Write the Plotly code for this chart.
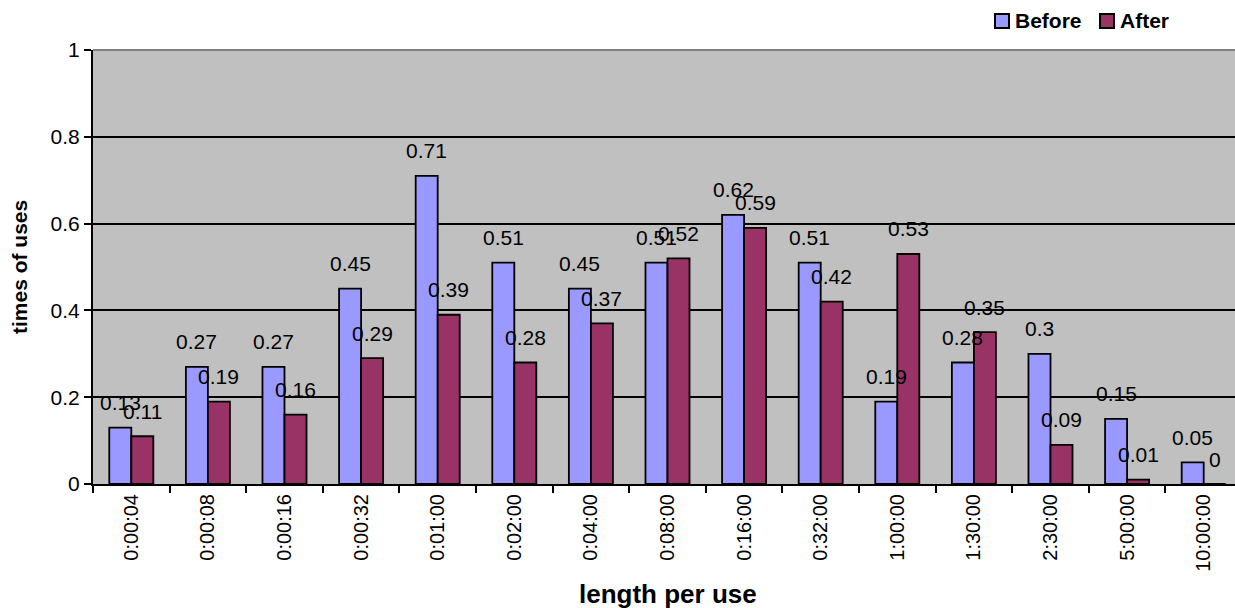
import plotly.graph_objects as go

categories = ["0:00:04", "0:00:08", "0:00:16", "0:00:32", "0:01:00", "0:02:00",
              "0:04:00", "0:08:00", "0:16:00", "0:32:00", "1:00:00", "1:30:00",
              "2:30:00", "5:00:00", "10:00:00"]
before = [0.13, 0.27, 0.27, 0.45, 0.71, 0.51, 0.45, 0.51, 0.62, 0.51, 0.19, 0.28, 0.30, 0.15, 0.05]
after = [0.11, 0.19, 0.16, 0.29, 0.39, 0.28, 0.37, 0.52, 0.59, 0.42, 0.53, 0.35, 0.09, 0.01, 0.00]
y_ticks = [0, 0.2, 0.4, 0.6, 0.8, 1]
y_tick_text = ["0", "0.2", "0.4", "0.6", "0.8", "1"]
series_names = ["Before", "After"]
series_colors = ["#9999FF", "#993366"]

FONT = "Liberation Sans, Arial, sans-serif"
W, H = 1235, 608
L, T, B = 93, 50, 124
PW, PH = W - L, H - T - B
CAT_PX = 76.6  # pixel width of one category slot


def px_x(px):
    return (px - L) / PW


def px_y(py):
    return (H - B - py) / PH


fig = go.Figure()
for name, vals, col in zip(series_names, (before, after), series_colors):
    fig.add_trace(go.Bar(name=name, x=categories, y=vals,
                         marker=dict(color=col, line=dict(color="black", width=1.8))))

# value labels above each bar
bar_px = CAT_PX * (1 - 0.425) / 2
for i, c in enumerate(categories):
    for vals, sh in ((before, -bar_px / 2), (after, bar_px / 2)):
        v = vals[i]
        fig.add_annotation(x=c, y=v, xref="x", yref="y", text=f"{v:g}",
                           showarrow=False, xshift=sh, yshift=25, yanchor="middle",
                           font=dict(family=FONT, size=21, color="black"))

# axis titles
fig.add_annotation(text="<b>length per use</b>", xref="paper", yref="paper",
                   x=px_x(668), y=px_y(594),
                   showarrow=False, yanchor="middle", xanchor="center",
                   font=dict(family=FONT, size=26, color="black"))
fig.add_annotation(text="<b>times of uses</b>", xref="paper", yref="paper",
                   x=px_x(19), y=0.5, textangle=-90,
                   showarrow=False, xanchor="center", yanchor="middle",
                   font=dict(family=FONT, size=21, color="black"))

# legend: swatch boxes with bold labels, top right
for name, col, bx in zip(series_names, series_colors, (995, 1100)):
    fig.add_shape(type="rect", xref="paper", yref="paper",
                  x0=px_x(bx), x1=px_x(bx + 14), y0=px_y(28), y1=px_y(14),
                  fillcolor=col, line=dict(color="black", width=2), layer="above")
    fig.add_annotation(text=f"<b>{name}</b>", xref="paper", yref="paper",
                       x=px_x(bx + 18), y=px_y(21), xanchor="left", yanchor="middle",
                       showarrow=False, font=dict(family=FONT, size=21, color="black"))

n_visible = PW / CAT_PX
fig.update_layout(
    width=W, height=H,
    margin=dict(l=L, r=0, t=T, b=B, pad=0),
    paper_bgcolor="white", plot_bgcolor="#C0C0C0",
    barmode="group", bargap=0.425, bargroupgap=0,
    font=dict(family=FONT, size=20, color="black"),
    showlegend=False,
    xaxis=dict(type="category", range=[-0.5, -0.5 + n_visible],
               showgrid=False, showline=True, linecolor="black", linewidth=2,
               ticks="outside", tickson="boundaries", ticklen=7, tickwidth=2, tickcolor="black",
               tickangle=-90, tickfont=dict(family=FONT, size=20), zeroline=False),
    yaxis=dict(range=[0, 1], tickvals=y_ticks, ticktext=y_tick_text,
               showgrid=True, gridcolor="black", gridwidth=1.5,
               showline=True, linecolor="black", linewidth=2,
               ticks="outside", ticklen=7, tickwidth=2, tickcolor="black",
               tickfont=dict(family=FONT, size=21), zeroline=False),
)
# grey top border of the plot area
fig.add_shape(type="line", xref="paper", yref="paper", x0=0, x1=1, y0=1, y1=1,
              line=dict(color="#808080", width=2))

fig.write_html("out.html")
